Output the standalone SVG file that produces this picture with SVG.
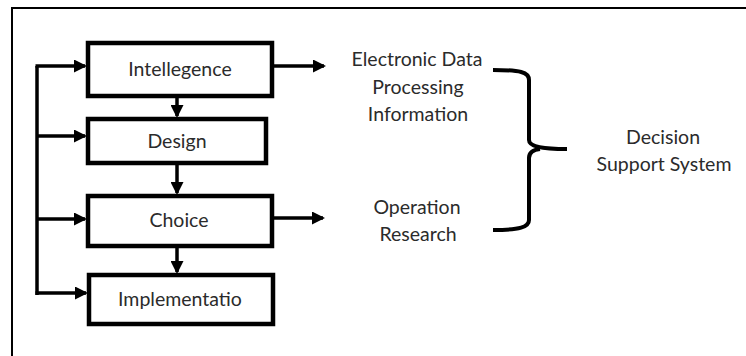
<svg xmlns="http://www.w3.org/2000/svg" width="746" height="356" viewBox="0 0 746 356">
<style>
.box{fill:#fff;stroke:#000;stroke-width:4.5}
.ln{fill:none;stroke:#000;stroke-width:3.5}
.t{font-family:Lato,"Liberation Sans",Arial,sans-serif;font-size:19.5px;fill:#2b2b2b;text-anchor:middle}
</style>
<defs>
<marker id="ah" markerWidth="13" markerHeight="13" refX="11" refY="6.5" orient="auto" markerUnits="userSpaceOnUse">
<path d="M0,0 L13,6.5 L0,13 Z" fill="#000"/>
</marker>
</defs>
<rect x="0" y="0" width="746" height="356" fill="#fff"/>
<path d="M12,356 V8 H746" fill="none" stroke="#000" stroke-width="2"/>
<g id="connectors">
<path class="ln" d="M37,295 V66"/>
<path class="ln" d="M35.5,66 H85" marker-end="url(#ah)"/>
<path class="ln" d="M37,136 H85" marker-end="url(#ah)"/>
<path class="ln" d="M37,219 H85" marker-end="url(#ah)"/>
<path class="ln" d="M35.5,293 H86" marker-end="url(#ah)"/>
<path class="ln" d="M177,98 V116" marker-end="url(#ah)"/>
<path class="ln" d="M177,165 V193" marker-end="url(#ah)"/>
<path class="ln" d="M177,248 V272" marker-end="url(#ah)"/>
<path class="ln" d="M274,66 H324" marker-end="url(#ah)"/>
<path class="ln" d="M274,218 H323" marker-end="url(#ah)"/>
<path d="M493,70 C520,70 529,72 529,80 V140 C529,146 540,149 567,149 M540,149 C532,150 529,153 529,158 V220 C529,227 520,230 493,230" fill="none" stroke="#000" stroke-width="4"/>
</g>
<g id="intellegence"><rect class="box" x="88" y="43" width="184" height="53"/><text class="t" x="180" y="76">Intellegence</text></g>
<g id="design"><rect class="box" x="88" y="119" width="178" height="44"/><text class="t" x="177" y="148">Design</text></g>
<g id="choice"><rect class="box" x="88" y="196" width="184" height="50"/><text class="t" x="179" y="227">Choice</text></g>
<g id="implementatio"><rect class="box" x="89" y="275" width="184" height="49"/><text class="t" x="180" y="306">Implementatio</text></g>
<g id="edp"><text class="t" x="417" y="66">Electronic Data</text><text class="t" x="418" y="94">Processing</text><text class="t" x="418" y="121">Information</text></g>
<g id="or"><text class="t" x="417" y="214">Operation</text><text class="t" x="418" y="241">Research</text></g>
<g id="dss"><text class="t" x="663" y="144">Decision</text><text class="t" x="664" y="171">Support System</text></g>
</svg>
